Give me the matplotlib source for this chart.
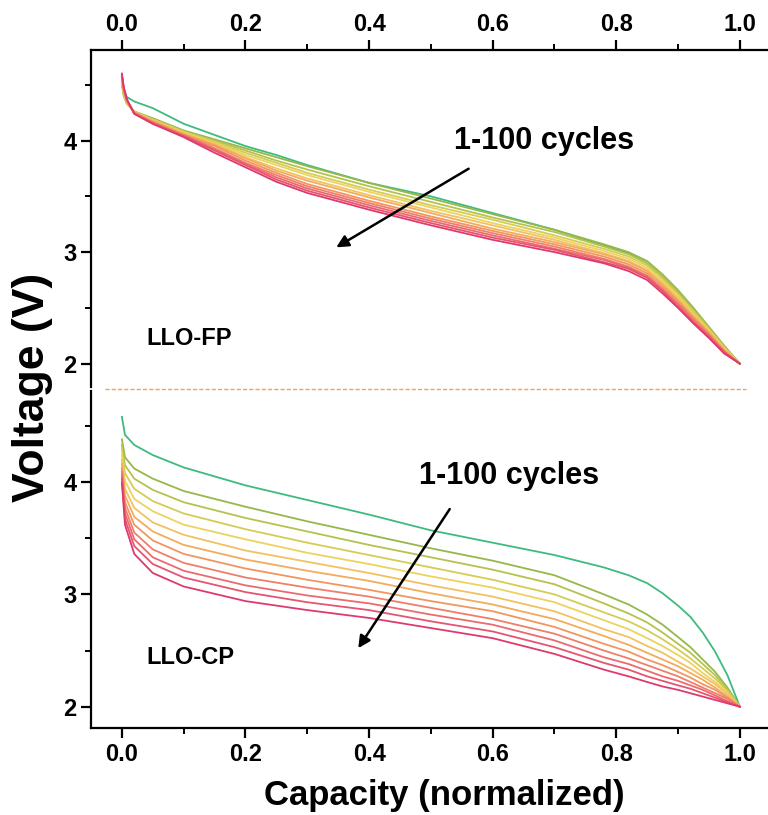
import matplotlib
matplotlib.use("Agg")
import matplotlib.pyplot as plt
from matplotlib.lines import Line2D
from matplotlib.ticker import MultipleLocator

plt.rcParams["font.family"] = ["Liberation Sans", "DejaVu Sans"]
plt.rcParams["font.weight"] = "bold"

# LLO-FP (top panel): capacity grid and voltages, cycle 1 -> cycle 100
cap_fp = [0, 0.003, 0.008, 0.02, 0.05, 0.1, 0.15, 0.2, 0.25, 0.3, 0.4, 0.5,
          0.6, 0.7, 0.78, 0.82, 0.85, 0.875, 0.9, 0.925, 0.95, 0.975, 1.0]
fp_volts = [
    [4.56, 4.45, 4.39, 4.35, 4.29, 4.15, 4.05, 3.95, 3.87, 3.78, 3.62, 3.50, 3.35, 3.20, 3.06, 2.99, 2.90, 2.78, 2.64, 2.48, 2.32, 2.15, 2.0],
    [4.50, 4.40, 4.33, 4.26, 4.20, 4.09, 4.01, 3.93, 3.85, 3.77, 3.62, 3.48, 3.34, 3.20, 3.07, 3.00, 2.92, 2.80, 2.66, 2.50, 2.33, 2.16, 2.0],
    [4.51, 4.41, 4.33, 4.26, 4.19, 4.08, 4.00, 3.91, 3.82, 3.74, 3.59, 3.45, 3.31, 3.18, 3.05, 2.98, 2.90, 2.78, 2.64, 2.48, 2.32, 2.15, 2.0],
    [4.52, 4.42, 4.34, 4.26, 4.19, 4.08, 3.99, 3.89, 3.80, 3.71, 3.56, 3.42, 3.29, 3.15, 3.03, 2.96, 2.88, 2.76, 2.62, 2.47, 2.31, 2.14, 2.0],
    [4.53, 4.43, 4.34, 4.25, 4.18, 4.07, 3.98, 3.87, 3.78, 3.69, 3.54, 3.40, 3.26, 3.13, 3.01, 2.94, 2.86, 2.74, 2.61, 2.45, 2.30, 2.14, 2.0],
    [4.55, 4.44, 4.35, 4.25, 4.18, 4.06, 3.97, 3.85, 3.75, 3.66, 3.51, 3.37, 3.24, 3.11, 2.99, 2.92, 2.84, 2.72, 2.59, 2.44, 2.29, 2.13, 2.0],
    [4.56, 4.44, 4.35, 4.25, 4.17, 4.06, 3.96, 3.84, 3.73, 3.64, 3.49, 3.35, 3.21, 3.09, 2.98, 2.91, 2.83, 2.71, 2.57, 2.42, 2.28, 2.12, 2.0],
    [4.57, 4.45, 4.36, 4.25, 4.17, 4.05, 3.95, 3.82, 3.71, 3.61, 3.46, 3.32, 3.19, 3.07, 2.96, 2.89, 2.81, 2.69, 2.56, 2.41, 2.27, 2.11, 2.0],
    [4.57, 4.46, 4.36, 4.25, 4.16, 4.05, 3.93, 3.80, 3.69, 3.59, 3.44, 3.30, 3.17, 3.05, 2.94, 2.87, 2.79, 2.67, 2.54, 2.40, 2.26, 2.11, 2.0],
    [4.58, 4.47, 4.36, 4.24, 4.16, 4.04, 3.92, 3.79, 3.67, 3.57, 3.42, 3.28, 3.15, 3.03, 2.93, 2.86, 2.78, 2.66, 2.53, 2.38, 2.25, 2.10, 2.0],
    [4.59, 4.47, 4.37, 4.24, 4.15, 4.04, 3.91, 3.78, 3.65, 3.55, 3.40, 3.26, 3.13, 3.02, 2.91, 2.85, 2.77, 2.65, 2.51, 2.37, 2.24, 2.10, 2.0],
    [4.60, 4.48, 4.37, 4.24, 4.15, 4.03, 3.89, 3.76, 3.63, 3.53, 3.38, 3.24, 3.11, 3.00, 2.90, 2.83, 2.75, 2.63, 2.50, 2.36, 2.23, 2.09, 2.0],
]

# LLO-CP (bottom panel)
cap_cp = [0, 0.005, 0.02, 0.05, 0.1, 0.2, 0.3, 0.4, 0.5, 0.6, 0.7,
          0.78, 0.82, 0.85, 0.875, 0.9, 0.92, 0.94, 0.96, 0.98, 1.0]
cp_volts = [
    [4.58, 4.42, 4.33, 4.24, 4.13, 3.97, 3.84, 3.71, 3.57, 3.46, 3.35, 3.24, 3.17, 3.10, 3.01, 2.90, 2.80, 2.66, 2.49, 2.28, 2.0],
    [4.38, 4.22, 4.12, 4.03, 3.92, 3.78, 3.65, 3.53, 3.41, 3.30, 3.17, 3.00, 2.91, 2.82, 2.73, 2.62, 2.53, 2.42, 2.31, 2.17, 2.0],
    [4.33, 4.15, 4.03, 3.93, 3.82, 3.68, 3.56, 3.44, 3.33, 3.22, 3.09, 2.92, 2.83, 2.75, 2.66, 2.56, 2.48, 2.38, 2.28, 2.15, 2.0],
    [4.29, 4.08, 3.94, 3.83, 3.72, 3.58, 3.46, 3.35, 3.24, 3.13, 3.00, 2.84, 2.76, 2.68, 2.60, 2.51, 2.43, 2.34, 2.25, 2.14, 2.0],
    [4.24, 4.01, 3.85, 3.74, 3.62, 3.49, 3.37, 3.27, 3.16, 3.06, 2.93, 2.77, 2.69, 2.61, 2.54, 2.46, 2.39, 2.30, 2.22, 2.12, 2.0],
    [4.20, 3.94, 3.77, 3.64, 3.53, 3.39, 3.29, 3.19, 3.08, 2.98, 2.85, 2.69, 2.62, 2.54, 2.48, 2.40, 2.34, 2.27, 2.20, 2.11, 2.0],
    [4.16, 3.88, 3.69, 3.56, 3.44, 3.31, 3.21, 3.12, 3.01, 2.91, 2.78, 2.63, 2.55, 2.48, 2.42, 2.36, 2.30, 2.24, 2.17, 2.09, 2.0],
    [4.12, 3.82, 3.62, 3.48, 3.36, 3.23, 3.13, 3.04, 2.94, 2.85, 2.71, 2.56, 2.49, 2.42, 2.37, 2.31, 2.26, 2.20, 2.15, 2.08, 2.0],
    [4.09, 3.77, 3.55, 3.40, 3.28, 3.15, 3.06, 2.98, 2.88, 2.78, 2.65, 2.50, 2.43, 2.37, 2.32, 2.27, 2.22, 2.17, 2.12, 2.07, 2.0],
    [4.06, 3.72, 3.49, 3.33, 3.21, 3.08, 2.99, 2.92, 2.82, 2.73, 2.59, 2.44, 2.38, 2.32, 2.27, 2.23, 2.19, 2.15, 2.10, 2.05, 2.0],
    [4.03, 3.67, 3.43, 3.27, 3.15, 3.02, 2.93, 2.86, 2.76, 2.67, 2.53, 2.39, 2.33, 2.27, 2.23, 2.19, 2.16, 2.12, 2.08, 2.04, 2.0],
    [3.99, 3.62, 3.36, 3.19, 3.07, 2.94, 2.86, 2.79, 2.70, 2.61, 2.47, 2.33, 2.27, 2.22, 2.18, 2.15, 2.12, 2.09, 2.06, 2.03, 2.0],
]

colors = ['#3dbb7e', '#96b84a', '#b5c24c', '#d4cc55', '#ecd35e', '#f2c160',
          '#f3ab5c', '#f2955f', '#f07e68', '#ec6a6e', '#e65470', '#de3a6c']

tick_pos = [0, 0.2, 0.4, 0.6, 0.8, 1.0]
tick_txt = ["0.0", "0.2", "0.4", "0.6", "0.8", "1.0"]

fig = plt.figure(figsize=(7.68, 8.15), dpi=100)
ax1 = fig.add_axes([0.1185, 0.525, 0.881, 0.4135])
ax2 = fig.add_axes([0.1185, 0.1067, 0.881, 0.4135])

for v, c in zip(fp_volts, colors):
    ax1.plot(cap_fp, v, color=c, lw=1.3)
for v, c in zip(cp_volts, colors):
    ax2.plot(cap_cp, v, color=c, lw=1.3)

for ax in (ax1, ax2):
    ax.set_xlim(-0.05, 1.045)
    ax.xaxis.set_minor_locator(MultipleLocator(0.1))
    ax.yaxis.set_minor_locator(MultipleLocator(0.5))
    ax.spines["right"].set_visible(False)
    for s in ax.spines.values():
        s.set_linewidth(1.6)
    ax.tick_params(which="major", direction="out", length=7, width=1.6,
                   labelsize=17)
    ax.tick_params(which="minor", direction="out", length=4, width=1.4)
    ax.set_xticks(tick_pos)
    ax.set_xticklabels(tick_txt, fontweight="bold")
    ax.set_yticks([2, 3, 4])
    ax.set_yticklabels(["2", "3", "4"], fontweight="bold")

ax1.set_ylim(1.79, 4.81)
ax1.spines["bottom"].set_visible(False)
ax1.xaxis.tick_top()
ax1.tick_params(axis="x", which="both", top=True, bottom=False)

ax2.set_ylim(1.81, 4.81)
ax2.spines["top"].set_visible(False)

# annotations
ax1.annotate("", xy=(0.343, 3.03), xytext=(0.565, 3.76),
             arrowprops=dict(arrowstyle="-|>", color="black", lw=1.8,
                             mutation_scale=18))
ax1.text(0.683, 4.0, "1-100 cycles", fontsize=22, fontweight="bold",
         ha="center", va="center")
ax1.text(0.04, 2.23, "LLO-FP", fontsize=17, fontweight="bold",
         ha="left", va="center")

ax2.annotate("", xy=(0.380, 2.50), xytext=(0.533, 3.78),
             arrowprops=dict(arrowstyle="-|>", color="black", lw=1.8,
                             mutation_scale=18))
ax2.text(0.626, 4.05, "1-100 cycles", fontsize=22, fontweight="bold",
         ha="center", va="center")
ax2.text(0.04, 2.44, "LLO-CP", fontsize=17, fontweight="bold",
         ha="left", va="center")

# dashed separator between the panels
fig.add_artist(Line2D([0.137, 0.971], [0.5227, 0.5227], color="#f0a060",
                      lw=1.0, ls=(0, (3, 1.5))))

fig.text(0.042, 0.5245, "Voltage (V)", rotation=90, fontsize=32,
         fontweight="bold", ha="center", va="center")
fig.text(0.579, 0.0245, "Capacity (normalized)", fontsize=25,
         fontweight="bold", ha="center", va="center")

fig.savefig("out.png", dpi=100)
